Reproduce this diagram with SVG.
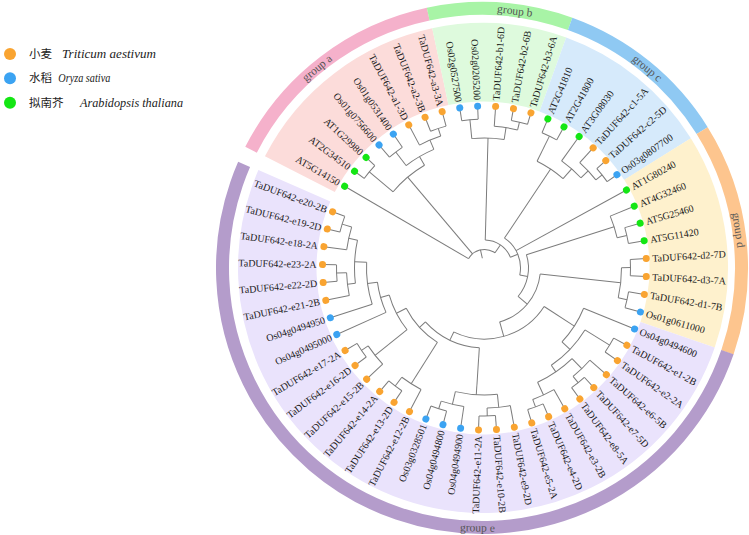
<svg xmlns="http://www.w3.org/2000/svg" width="749" height="535" viewBox="0 0 749 535">
<style>
.br{fill:none;stroke:#7c7c7c;stroke-width:1}
.lbl{font-family:"Liberation Serif","Times New Roman",serif;font-size:10px;fill:#1a1a1a;dominant-baseline:central}
.l{text-anchor:end}
.ta{fill:#F9A431}.os{fill:#3BA3F2}.at{fill:#14E614}
.bg{fill:none;stroke-width:78.5}
.rg{fill:none;stroke-width:13}
.glbl{font-family:"Liberation Serif","Times New Roman",serif;font-size:11.5px;fill:#555;text-anchor:middle;dominant-baseline:central}
.leg{font-family:"Noto Sans CJK SC",sans-serif;font-size:11.5px;fill:#222}
.legi{font-family:"Liberation Serif","Times New Roman",serif;font-style:italic;font-size:12.5px;fill:#222}
</style>
<g id="backgrounds" transform="translate(483,268)">
<circle class="bg" r="205.75" stroke="#FCDCDA" stroke-dasharray="182.82 2000" transform="rotate(-152.88)"/>
<circle class="bg" r="205.75" stroke="#DEFADD" stroke-dasharray="114.27 2000" transform="rotate(-101.97)"/>
<circle class="bg" r="205.75" stroke="#D6EAFB" stroke-dasharray="137.11 2000" transform="rotate(-70.15)"/>
<circle class="bg" r="205.75" stroke="#FEF1CD" stroke-dasharray="182.82 2000" transform="rotate(-31.97)"/>
<circle class="bg" r="205.75" stroke="#EAE3FC" stroke-dasharray="662.7 3000" transform="rotate(18.94)"/>
</g>
<g id="rings" transform="translate(482,268)">
<circle class="rg" r="259.5" stroke="#F5B1CB" stroke-dasharray="230.58 3000" transform="rotate(-152.88)"/>
<circle class="rg" r="259.5" stroke="#A8F4A6" stroke-dasharray="144.12 3000" transform="rotate(-101.97)"/>
<circle class="rg" r="259.5" stroke="#8FC9F3" stroke-dasharray="172.92 3000" transform="rotate(-70.15)"/>
<circle class="rg" r="259.5" stroke="#FDC58E" stroke-dasharray="230.58 3000" transform="rotate(-31.97)"/>
<circle class="rg" r="259.5" stroke="#B49CCB" stroke-dasharray="835.8 3000" transform="rotate(18.94)"/>
<text class="glbl" transform="rotate(-129.5) translate(259.5,0) rotate(90)">group a</text>
<text class="glbl" transform="rotate(-82.7) translate(259.5,0) rotate(90)">group b</text>
<text class="glbl" transform="rotate(-50.4) translate(259.5,0) rotate(90)">group c</text>
<text class="glbl" transform="rotate(-8.4) translate(259.5,0) rotate(90)">group d</text>
<text class="glbl" transform="rotate(91) translate(259.5,0) rotate(-90)">group e</text>
</g>
<g id="connectors" class="br" transform="translate(484.5,268)">
<line x1="10" x2="18.5" transform="rotate(-102.58)"/>
<circle r="18.5" stroke-dasharray="30.43 2000" transform="rotate(-149.7)"/>
<circle r="28" stroke-dasharray="32.24 2000" transform="rotate(-88.45)"/>
<circle r="36" stroke-dasharray="42.43 2000" transform="rotate(-56.24)"/>
<circle r="44" stroke-dasharray="44.45 2000" transform="rotate(-17.655)"/>
<circle r="56" stroke-dasharray="66.5 2000" transform="rotate(6.21)"/>
<circle r="71" stroke-dasharray="102.58 2000" transform="rotate(32.86)"/>
<circle r="80" stroke-dasharray="61.23 2000" transform="rotate(93.71)"/>
<circle r="88" stroke-dasharray="46.73 2000" transform="rotate(122.35)"/>
<circle r="99" stroke-dasharray="39.17 2000" transform="rotate(141.44)"/>
<circle r="108" stroke-dasharray="31.48 2000" transform="rotate(155.76)"/>
<circle r="118" stroke-dasharray="42.59 2000" transform="rotate(162.12)"/>
<circle r="130" stroke-dasharray="43.33 2000" transform="rotate(173.255)"/>
<circle r="139" stroke-dasharray="23.14 2000" transform="rotate(187.58)"/>
<circle r="149" stroke-dasharray="16.54 2000" transform="rotate(193.94)"/>
<circle r="138" stroke-dasharray="23 2000" transform="rotate(168.48)"/>
<circle r="148" stroke-dasharray="16.43 2000" transform="rotate(174.85)"/>
<circle r="140" stroke-dasharray="23.31 2000" transform="rotate(136.67)"/>
<circle r="148" stroke-dasharray="16.43 2000" transform="rotate(143.03)"/>
<circle r="137" stroke-dasharray="22.81 2000" transform="rotate(117.58)"/>
<circle r="148" stroke-dasharray="16.43 2000" transform="rotate(123.94)"/>
<circle r="127" stroke-dasharray="42.31 2000" transform="rotate(84.165)"/>
<circle r="140" stroke-dasharray="23.34 2000" transform="rotate(98.48)"/>
<circle r="148" stroke-dasharray="16.43 2000" transform="rotate(104.85)"/>
<circle r="140" stroke-dasharray="23.34 2000" transform="rotate(79.39)"/>
<circle r="148" stroke-dasharray="16.43 2000" transform="rotate(85.76)"/>
<circle r="107" stroke-dasharray="40.11 2000" transform="rotate(22.12)"/>
<circle r="118" stroke-dasharray="49.15 2000" transform="rotate(31.665)"/>
<circle r="126" stroke-dasharray="41.98 2000" transform="rotate(45.985)"/>
<circle r="140" stroke-dasharray="23.34 2000" transform="rotate(60.3)"/>
<circle r="148" stroke-dasharray="16.43 2000" transform="rotate(66.67)"/>
<circle r="140" stroke-dasharray="23.34 2000" transform="rotate(41.21)"/>
<circle r="148" stroke-dasharray="16.43 2000" transform="rotate(47.58)"/>
<circle r="147" stroke-dasharray="16.34 2000" transform="rotate(28.48)"/>
<circle r="137" stroke-dasharray="30.44 2000" transform="rotate(-0.155)"/>
<circle r="146" stroke-dasharray="16.23 2000" transform="rotate(9.39)"/>
<circle r="146" stroke-dasharray="16.23 2000" transform="rotate(-3.34)"/>
<circle r="136" stroke-dasharray="22.67 2000" transform="rotate(-22.43)"/>
<circle r="146" stroke-dasharray="16.21 2000" transform="rotate(-16.06)"/>
<circle r="119" stroke-dasharray="31.38 2000" transform="rotate(-63.79)"/>
<circle r="147" stroke-dasharray="16.32 2000" transform="rotate(-66.97)"/>
<circle r="132" stroke-dasharray="25.66 2000" transform="rotate(-54.25)"/>
<circle r="142" stroke-dasharray="23.64 2000" transform="rotate(-47.88)"/>
<circle r="150" stroke-dasharray="16.68 2000" transform="rotate(-41.52)"/>
<circle r="130" stroke-dasharray="32.49 2000" transform="rotate(-95.61)"/>
<circle r="149" stroke-dasharray="16.54 2000" transform="rotate(-98.79)"/>
<circle r="142" stroke-dasharray="23.64 2000" transform="rotate(-86.06)"/>
<circle r="150" stroke-dasharray="16.65 2000" transform="rotate(-79.7)"/>
<circle r="119" stroke-dasharray="41.31 2000" transform="rotate(-140.16)"/>
<circle r="150" stroke-dasharray="16.68 2000" transform="rotate(-143.34)"/>
<circle r="129" stroke-dasharray="32.24 2000" transform="rotate(-127.43)"/>
<circle r="146" stroke-dasharray="16.21 2000" transform="rotate(-130.61)"/>
<circle r="139" stroke-dasharray="23.14 2000" transform="rotate(-117.88)"/>
<circle r="147" stroke-dasharray="16.34 2000" transform="rotate(-111.52)"/>
<line x1="18.5" x2="28" transform="rotate(-55.46)"/>
<line x1="28" x2="36" transform="rotate(-22.475)"/>
<line x1="36" x2="44" transform="rotate(11.29)"/>
<line x1="44" x2="56" transform="rotate(40.23)"/>
<line x1="56" x2="71" transform="rotate(74.25)"/>
<line x1="71" x2="80" transform="rotate(115.64)"/>
<line x1="80" x2="88" transform="rotate(137.56)"/>
<line x1="88" x2="99" transform="rotate(152.775)"/>
<line x1="99" x2="108" transform="rotate(164.11)"/>
<line x1="108" x2="118" transform="rotate(172.46)"/>
<line x1="118" x2="130" transform="rotate(182.8)"/>
<line x1="130" x2="139" transform="rotate(192.35)"/>
<line x1="139" x2="149" transform="rotate(197.12)"/>
<line x1="130" x2="138" transform="rotate(173.255)"/>
<line x1="138" x2="148" transform="rotate(178.03)"/>
<line x1="99" x2="140" transform="rotate(141.44)"/>
<line x1="140" x2="148" transform="rotate(146.21)"/>
<line x1="88" x2="137" transform="rotate(122.35)"/>
<line x1="137" x2="148" transform="rotate(127.12)"/>
<line x1="80" x2="127" transform="rotate(93.71)"/>
<line x1="127" x2="140" transform="rotate(103.255)"/>
<line x1="140" x2="148" transform="rotate(108.03)"/>
<line x1="127" x2="140" transform="rotate(84.165)"/>
<line x1="140" x2="148" transform="rotate(88.94)"/>
<line x1="71" x2="107" transform="rotate(32.86)"/>
<line x1="107" x2="118" transform="rotate(43.6)"/>
<line x1="118" x2="126" transform="rotate(55.53)"/>
<line x1="126" x2="140" transform="rotate(65.075)"/>
<line x1="140" x2="148" transform="rotate(69.85)"/>
<line x1="126" x2="140" transform="rotate(45.985)"/>
<line x1="140" x2="148" transform="rotate(50.76)"/>
<line x1="118" x2="147" transform="rotate(31.665)"/>
<line x1="56" x2="137" transform="rotate(6.21)"/>
<line x1="137" x2="146" transform="rotate(12.575)"/>
<line x1="137" x2="146" transform="rotate(-0.155)"/>
<line x1="44" x2="136" transform="rotate(-17.655)"/>
<line x1="136" x2="146" transform="rotate(-12.88)"/>
<line x1="36" x2="119" transform="rotate(-56.24)"/>
<line x1="119" x2="147" transform="rotate(-63.79)"/>
<line x1="119" x2="132" transform="rotate(-48.68)"/>
<line x1="132" x2="142" transform="rotate(-43.11)"/>
<line x1="142" x2="150" transform="rotate(-38.34)"/>
<line x1="28" x2="130" transform="rotate(-88.45)"/>
<line x1="130" x2="149" transform="rotate(-95.61)"/>
<line x1="130" x2="142" transform="rotate(-81.29)"/>
<line x1="142" x2="150" transform="rotate(-76.52)"/>
<line x1="18.5" x2="119" transform="rotate(-130.22)"/>
<line x1="119" x2="150" transform="rotate(-140.16)"/>
<line x1="119" x2="129" transform="rotate(-120.27)"/>
<line x1="129" x2="146" transform="rotate(-127.43)"/>
<line x1="129" x2="139" transform="rotate(-113.11)"/>
<line x1="139" x2="147" transform="rotate(-108.34)"/>
<line x1="18.5" x2="162" transform="rotate(-149.7)"/>
<line x1="150" x2="162" transform="rotate(-143.34)"/>
<line x1="150" x2="162" transform="rotate(-136.97)"/>
<line x1="146" x2="162" transform="rotate(-130.61)"/>
<line x1="146" x2="162" transform="rotate(-124.25)"/>
<line x1="139" x2="162" transform="rotate(-117.88)"/>
<line x1="147" x2="162" transform="rotate(-111.52)"/>
<line x1="147" x2="162" transform="rotate(-105.15)"/>
<line x1="149" x2="162" transform="rotate(-98.79)"/>
<line x1="149" x2="162" transform="rotate(-92.43)"/>
<line x1="142" x2="162" transform="rotate(-86.06)"/>
<line x1="150" x2="162" transform="rotate(-79.7)"/>
<line x1="150" x2="162" transform="rotate(-73.34)"/>
<line x1="147" x2="162" transform="rotate(-66.97)"/>
<line x1="147" x2="162" transform="rotate(-60.61)"/>
<line x1="132" x2="162" transform="rotate(-54.25)"/>
<line x1="142" x2="162" transform="rotate(-47.88)"/>
<line x1="150" x2="162" transform="rotate(-41.52)"/>
<line x1="150" x2="162" transform="rotate(-35.15)"/>
<line x1="36" x2="162" transform="rotate(-28.79)"/>
<line x1="136" x2="162" transform="rotate(-22.43)"/>
<line x1="146" x2="162" transform="rotate(-16.06)"/>
<line x1="146" x2="162" transform="rotate(-9.7)"/>
<line x1="146" x2="162" transform="rotate(-3.34)"/>
<line x1="146" x2="162" transform="rotate(3.03)"/>
<line x1="146" x2="162" transform="rotate(9.39)"/>
<line x1="146" x2="162" transform="rotate(15.76)"/>
<line x1="107" x2="162" transform="rotate(22.12)"/>
<line x1="147" x2="162" transform="rotate(28.48)"/>
<line x1="147" x2="162" transform="rotate(34.85)"/>
<line x1="140" x2="162" transform="rotate(41.21)"/>
<line x1="148" x2="162" transform="rotate(47.58)"/>
<line x1="148" x2="162" transform="rotate(53.94)"/>
<line x1="140" x2="162" transform="rotate(60.3)"/>
<line x1="148" x2="162" transform="rotate(66.67)"/>
<line x1="148" x2="162" transform="rotate(73.03)"/>
<line x1="140" x2="162" transform="rotate(79.39)"/>
<line x1="148" x2="162" transform="rotate(85.76)"/>
<line x1="148" x2="162" transform="rotate(92.12)"/>
<line x1="140" x2="162" transform="rotate(98.48)"/>
<line x1="148" x2="162" transform="rotate(104.85)"/>
<line x1="148" x2="162" transform="rotate(111.21)"/>
<line x1="137" x2="162" transform="rotate(117.58)"/>
<line x1="148" x2="162" transform="rotate(123.94)"/>
<line x1="148" x2="162" transform="rotate(130.3)"/>
<line x1="140" x2="162" transform="rotate(136.67)"/>
<line x1="148" x2="162" transform="rotate(143.03)"/>
<line x1="148" x2="162" transform="rotate(149.39)"/>
<line x1="108" x2="162" transform="rotate(155.76)"/>
<line x1="118" x2="162" transform="rotate(162.12)"/>
<line x1="138" x2="162" transform="rotate(168.48)"/>
<line x1="148" x2="162" transform="rotate(174.85)"/>
<line x1="148" x2="162" transform="rotate(181.21)"/>
<line x1="139" x2="162" transform="rotate(187.58)"/>
<line x1="149" x2="162" transform="rotate(193.94)"/>
<line x1="149" x2="162" transform="rotate(200.3)"/>
</g>
<g id="leaves" transform="translate(484.5,268)">
<g id="AT5G14150" transform="rotate(-149.7)"><circle class="at" cx="162" r="3.5"/><text class="lbl l" transform="rotate(180)" x="-168">AT5G14150</text></g>
<g id="AT2G34510" transform="rotate(-143.34)"><circle class="at" cx="162" r="3.5"/><text class="lbl l" transform="rotate(180)" x="-168">AT2G34510</text></g>
<g id="AT1G29980" transform="rotate(-136.97)"><circle class="at" cx="162" r="3.5"/><text class="lbl l" transform="rotate(180)" x="-168">AT1G29980</text></g>
<g id="Os01g0756600" transform="rotate(-130.61)"><circle class="os" cx="162" r="3.5"/><text class="lbl l" transform="rotate(180)" x="-168">Os01g0756600</text></g>
<g id="Os01g0531400" transform="rotate(-124.25)"><circle class="os" cx="162" r="3.5"/><text class="lbl l" transform="rotate(180)" x="-168">Os01g0531400</text></g>
<g id="TaDUF642-a1-3D" transform="rotate(-117.88)"><circle class="ta" cx="162" r="3.5"/><text class="lbl l" transform="rotate(180)" x="-168">TaDUF642-a1-3D</text></g>
<g id="TaDUF642-a2-3B" transform="rotate(-111.52)"><circle class="ta" cx="162" r="3.5"/><text class="lbl l" transform="rotate(180)" x="-168">TaDUF642-a2-3B</text></g>
<g id="TaDUF642-a3-3A" transform="rotate(-105.15)"><circle class="ta" cx="162" r="3.5"/><text class="lbl l" transform="rotate(180)" x="-168">TaDUF642-a3-3A</text></g>
<g id="Os02g0527500" transform="rotate(-98.79)"><circle class="os" cx="162" r="3.5"/><text class="lbl l" transform="rotate(180)" x="-168">Os02g0527500</text></g>
<g id="Os02g0205200" transform="rotate(-92.43)"><circle class="os" cx="162" r="3.5"/><text class="lbl l" transform="rotate(180)" x="-168">Os02g0205200</text></g>
<g id="TaDUF642-b1-6D" transform="rotate(-86.06)"><circle class="ta" cx="162" r="3.5"/><text class="lbl" x="168">TaDUF642-b1-6D</text></g>
<g id="TaDUF642-b2-6B" transform="rotate(-79.7)"><circle class="ta" cx="162" r="3.5"/><text class="lbl" x="168">TaDUF642-b2-6B</text></g>
<g id="TaDUF642-b3-6A" transform="rotate(-73.34)"><circle class="ta" cx="162" r="3.5"/><text class="lbl" x="168">TaDUF642-b3-6A</text></g>
<g id="AT2G41810" transform="rotate(-66.97)"><circle class="at" cx="162" r="3.5"/><text class="lbl" x="168">AT2G41810</text></g>
<g id="AT2G41800" transform="rotate(-60.61)"><circle class="at" cx="162" r="3.5"/><text class="lbl" x="168">AT2G41800</text></g>
<g id="AT3G08030" transform="rotate(-54.25)"><circle class="at" cx="162" r="3.5"/><text class="lbl" x="168">AT3G08030</text></g>
<g id="TaDUF642-c1-5A" transform="rotate(-47.88)"><circle class="ta" cx="162" r="3.5"/><text class="lbl" x="168">TaDUF642-c1-5A</text></g>
<g id="TaDUF642-c2-5D" transform="rotate(-41.52)"><circle class="ta" cx="162" r="3.5"/><text class="lbl" x="168">TaDUF642-c2-5D</text></g>
<g id="Os03g0807700" transform="rotate(-35.15)"><circle class="os" cx="162" r="3.5"/><text class="lbl" x="168">Os03g0807700</text></g>
<g id="AT1G80240" transform="rotate(-28.79)"><circle class="at" cx="162" r="3.5"/><text class="lbl" x="168">AT1G80240</text></g>
<g id="AT4G32460" transform="rotate(-22.43)"><circle class="at" cx="162" r="3.5"/><text class="lbl" x="168">AT4G32460</text></g>
<g id="AT5G25460" transform="rotate(-16.06)"><circle class="at" cx="162" r="3.5"/><text class="lbl" x="168">AT5G25460</text></g>
<g id="AT5G11420" transform="rotate(-9.7)"><circle class="at" cx="162" r="3.5"/><text class="lbl" x="168">AT5G11420</text></g>
<g id="TaDUF642-d2-7D" transform="rotate(-3.34)"><circle class="ta" cx="162" r="3.5"/><text class="lbl" x="168">TaDUF642-d2-7D</text></g>
<g id="TaDUF642-d3-7A" transform="rotate(3.03)"><circle class="ta" cx="162" r="3.5"/><text class="lbl" x="168">TaDUF642-d3-7A</text></g>
<g id="TaDUF642-d1-7B" transform="rotate(9.39)"><circle class="ta" cx="162" r="3.5"/><text class="lbl" x="168">TaDUF642-d1-7B</text></g>
<g id="Os01g0611000" transform="rotate(15.76)"><circle class="os" cx="162" r="3.5"/><text class="lbl" x="168">Os01g0611000</text></g>
<g id="Os04g0494600" transform="rotate(22.12)"><circle class="os" cx="162" r="3.5"/><text class="lbl" x="168">Os04g0494600</text></g>
<g id="TaDUF642-e1-2B" transform="rotate(28.48)"><circle class="ta" cx="162" r="3.5"/><text class="lbl" x="168">TaDUF642-e1-2B</text></g>
<g id="TaDUF642-e2-2A" transform="rotate(34.85)"><circle class="ta" cx="162" r="3.5"/><text class="lbl" x="168">TaDUF642-e2-2A</text></g>
<g id="TaDUF642-e6-5B" transform="rotate(41.21)"><circle class="ta" cx="162" r="3.5"/><text class="lbl" x="168">TaDUF642-e6-5B</text></g>
<g id="TaDUF642-e7-5D" transform="rotate(47.58)"><circle class="ta" cx="162" r="3.5"/><text class="lbl" x="168">TaDUF642-e7-5D</text></g>
<g id="TaDUF642-e8-5A" transform="rotate(53.94)"><circle class="ta" cx="162" r="3.5"/><text class="lbl" x="168">TaDUF642-e8-5A</text></g>
<g id="TaDUF642-e3-2B" transform="rotate(60.3)"><circle class="ta" cx="162" r="3.5"/><text class="lbl" x="168">TaDUF642-e3-2B</text></g>
<g id="TaDUF642-e4-2D" transform="rotate(66.67)"><circle class="ta" cx="162" r="3.5"/><text class="lbl" x="168">TaDUF642-e4-2D</text></g>
<g id="TaDUF642-e5-2A" transform="rotate(73.03)"><circle class="ta" cx="162" r="3.5"/><text class="lbl" x="168">TaDUF642-e5-2A</text></g>
<g id="TaDUF642-e9-2D" transform="rotate(79.39)"><circle class="ta" cx="162" r="3.5"/><text class="lbl" x="168">TaDUF642-e9-2D</text></g>
<g id="TaDUF642-e10-2B" transform="rotate(85.76)"><circle class="ta" cx="162" r="3.5"/><text class="lbl" x="168">TaDUF642-e10-2B</text></g>
<g id="TaDUF642-e11-2A" transform="rotate(92.12)"><circle class="ta" cx="162" r="3.5"/><text class="lbl l" transform="rotate(180)" x="-168">TaDUF642-e11-2A</text></g>
<g id="Os04g0494900" transform="rotate(98.48)"><circle class="os" cx="162" r="3.5"/><text class="lbl l" transform="rotate(180)" x="-168">Os04g0494900</text></g>
<g id="Os04g0494800" transform="rotate(104.85)"><circle class="os" cx="162" r="3.5"/><text class="lbl l" transform="rotate(180)" x="-168">Os04g0494800</text></g>
<g id="Os03g0328501" transform="rotate(111.21)"><circle class="os" cx="162" r="3.5"/><text class="lbl l" transform="rotate(180)" x="-168">Os03g0328501</text></g>
<g id="TaDUF642-e12-2B" transform="rotate(117.58)"><circle class="ta" cx="162" r="3.5"/><text class="lbl l" transform="rotate(180)" x="-168">TaDUF642-e12-2B</text></g>
<g id="TaDUF642-e13-2D" transform="rotate(123.94)"><circle class="ta" cx="162" r="3.5"/><text class="lbl l" transform="rotate(180)" x="-168">TaDUF642-e13-2D</text></g>
<g id="TaDUF642-e14-2A" transform="rotate(130.3)"><circle class="ta" cx="162" r="3.5"/><text class="lbl l" transform="rotate(180)" x="-168">TaDUF642-e14-2A</text></g>
<g id="TaDUF642-e15-2B" transform="rotate(136.67)"><circle class="ta" cx="162" r="3.5"/><text class="lbl l" transform="rotate(180)" x="-168">TaDUF642-e15-2B</text></g>
<g id="TaDUF642-e16-2D" transform="rotate(143.03)"><circle class="ta" cx="162" r="3.5"/><text class="lbl l" transform="rotate(180)" x="-168">TaDUF642-e16-2D</text></g>
<g id="TaDUF642-e17-2A" transform="rotate(149.39)"><circle class="ta" cx="162" r="3.5"/><text class="lbl l" transform="rotate(180)" x="-168">TaDUF642-e17-2A</text></g>
<g id="Os04g0495000" transform="rotate(155.76)"><circle class="os" cx="162" r="3.5"/><text class="lbl l" transform="rotate(180)" x="-168">Os04g0495000</text></g>
<g id="Os04g0494950" transform="rotate(162.12)"><circle class="os" cx="162" r="3.5"/><text class="lbl l" transform="rotate(180)" x="-168">Os04g0494950</text></g>
<g id="TaDUF642-e21-2B" transform="rotate(168.48)"><circle class="ta" cx="162" r="3.5"/><text class="lbl l" transform="rotate(180)" x="-168">TaDUF642-e21-2B</text></g>
<g id="TaDUF642-e22-2D" transform="rotate(174.85)"><circle class="ta" cx="162" r="3.5"/><text class="lbl l" transform="rotate(180)" x="-168">TaDUF642-e22-2D</text></g>
<g id="TaDUF642-e23-2A" transform="rotate(181.21)"><circle class="ta" cx="162" r="3.5"/><text class="lbl l" transform="rotate(180)" x="-168">TaDUF642-e23-2A</text></g>
<g id="TaDUF642-e18-2A" transform="rotate(187.58)"><circle class="ta" cx="162" r="3.5"/><text class="lbl l" transform="rotate(180)" x="-168">TaDUF642-e18-2A</text></g>
<g id="TaDUF642-e19-2D" transform="rotate(193.94)"><circle class="ta" cx="162" r="3.5"/><text class="lbl l" transform="rotate(180)" x="-168">TaDUF642-e19-2D</text></g>
<g id="TaDUF642-e20-2B" transform="rotate(200.3)"><circle class="ta" cx="162" r="3.5"/><text class="lbl l" transform="rotate(180)" x="-168">TaDUF642-e20-2B</text></g>
</g>
<g id="legend">
<circle class="ta" cx="10" cy="54" r="6"/>
<text class="leg" x="29" y="58">小麦</text>
<text class="legi" x="62" y="58" textLength="94" lengthAdjust="spacingAndGlyphs">Triticum aestivum</text>
<circle class="os" cx="10" cy="78.3" r="6"/>
<text class="leg" x="29" y="82.3">水稻</text>
<text class="legi" x="58.3" y="82.3" textLength="52" lengthAdjust="spacingAndGlyphs">Oryza sativa</text>
<circle class="at" cx="10" cy="102.7" r="6"/>
<text class="leg" x="29" y="106.7">拟南芥</text>
<text class="legi" x="80" y="106.7" textLength="103" lengthAdjust="spacingAndGlyphs">Arabidopsis thaliana</text>
</g>
</svg>
